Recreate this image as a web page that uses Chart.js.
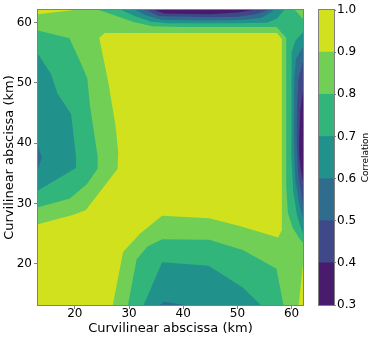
<!DOCTYPE html>
<html>
<head>
<meta charset="utf-8">
<script src="https://cdn.jsdelivr.net/npm/chart.js@4.4.1/dist/chart.umd.min.js"></script>
<style>
  html, body { margin: 0; padding: 0; background: #fff; }
  #wrap { position: relative; width: 374px; height: 340px; }
  #contour { position: absolute; left: 0; top: 0; }
  #colorbar { position: absolute; left: 305px; top: 0; }
</style>
</head>
<body>
<div id="wrap">
  <canvas id="contour" width="306" height="340"></canvas>
  <canvas id="colorbar" width="69" height="340"></canvas>
</div>
<script>
// axis limits and ticks (km)
var xMin = 13.2, xMax = 62.1, yMin = 13.2, yMax = 62.1;
var xTicks = [20, 30, 40, 50, 60];
var yTicks = [20, 30, 40, 50, 60];

// contour levels of the correlation
var levels = [0.3, 0.4, 0.5, 0.6, 0.7, 0.8, 0.9, 1.0];
var bandColors = ['#481b6d', '#3f4888', '#2e6d8e', '#21918c', '#32b57a', '#72cf56', '#d1e11e'];

// contour outlines, [x km, y km]
var above90Main = [[13.2, 13.2], [27.0, 13.2], [28.9, 22.0], [32.0, 25.0], [36.1, 28.0], [44.8, 27.6],
  [50.4, 26.3], [57.5, 24.4], [58.2, 25.6], [58.2, 57.3], [57.3, 58.3], [25.5, 58.3], [24.5, 57.5],
  [26.2, 50.0], [27.5, 43.0], [28.0, 38.5], [27.9, 35.8], [22.0, 28.9], [19.6, 28.1], [13.2, 26.6]];
var above90TopLeft = [[13.2, 62.1], [19.8, 62.1], [13.2, 61.4]];
var above90BottomRight = [[61.3, 13.2], [62.1, 13.2], [62.1, 20.0]];

var below80Left = [[13.2, 58.7], [19.0, 57.4], [20.8, 53.9], [22.3, 50.8], [22.8, 46.2], [24.2, 37.9],
  [24.2, 35.8], [22.2, 33.2], [19.0, 30.8], [13.2, 29.4]];
var below80Bottom = [[29.8, 13.2], [31.4, 20.8], [33.4, 22.9], [36.1, 24.1], [44.8, 24.0], [51.0, 22.3],
  [57.2, 19.2], [58.5, 13.2]];
var below80TopRight = [[24.4, 62.1], [27.0, 61.3], [31.0, 60.05], [34.4, 59.4], [40.0, 59.3], [57.2, 59.3],
  [59.0, 57.5], [59.0, 33.0], [59.3, 28.5], [60.2, 26.0], [61.3, 24.4], [62.1, 23.5], [62.1, 60.6], [60.6, 62.1]];

var below70Left = [[13.2, 54.8], [15.6, 51.5], [16.8, 48.2], [19.3, 44.9], [20.2, 37.9], [20.2, 35.9], [13.2, 32.2]];
var below70Bottom = [[32.7, 13.2], [36.1, 20.3], [44.7, 19.7], [51.1, 16.0], [54.3, 13.2]];
var below70Top = [[28.6, 62.1], [31.0, 61.1], [34.0, 60.2], [37.0, 59.9], [50.0, 59.9], [55.5, 60.0],
  [57.3, 60.7], [58.6, 62.1]];
var below70Right = [[62.1, 58.4], [60.7, 57.0], [60.0, 55.0], [59.9, 45.0], [60.0, 38.0], [60.3, 32.0],
  [61.0, 28.0], [62.1, 25.0]];

var below60Left = [[13.2, 39.5], [13.9, 37.6], [13.2, 35.8]];
var below60Bottom = [[35.7, 13.2], [36.4, 13.75], [40.3, 13.2]];
var below60Top = [[31.2, 62.1], [33.2, 61.2], [36.0, 60.5], [45.0, 60.35], [51.0, 60.45], [54.5, 60.8], [56.8, 62.1]];
var below60Right = [[62.1, 56.0], [60.8, 54.0], [60.5, 51.0], [60.4, 40.0], [60.7, 34.0], [61.4, 30.0], [62.1, 27.5]];

var below50Top = [[33.2, 62.1], [35.5, 61.1], [45.0, 60.9], [50.0, 61.0], [53.3, 61.4], [55.6, 62.1]];
var below50Right = [[62.1, 53.5], [61.3, 51.0], [61.0, 46.0], [60.95, 40.0], [61.2, 35.0], [62.1, 29.8]];

var below40Top = [[34.7, 62.1], [36.5, 61.5], [45.0, 61.4], [50.0, 61.7], [52.9, 62.1]];
var below40Right = [[62.1, 48.8], [61.6, 45.5], [61.4, 41.0], [61.4, 38.0], [61.7, 35.5], [62.1, 33.8]];

var domain = [[xMin, yMin], [xMax, yMin], [xMax, yMax], [xMin, yMax]];

// painted in this order, each band index points into bandColors
var layers = [
  {pts: domain, band: 5},
  {pts: above90Main, band: 6},
  {pts: above90TopLeft, band: 6},
  {pts: above90BottomRight, band: 6},
  {pts: below80Left, band: 4},
  {pts: below80Bottom, band: 4},
  {pts: below80TopRight, band: 4},
  {pts: below70Left, band: 3},
  {pts: below70Bottom, band: 3},
  {pts: below70Top, band: 3},
  {pts: below70Right, band: 3},
  {pts: below60Left, band: 2},
  {pts: below60Bottom, band: 2},
  {pts: below60Top, band: 2},
  {pts: below60Right, band: 2},
  {pts: below50Top, band: 1},
  {pts: below50Right, band: 1},
  {pts: below40Top, band: 0},
  {pts: below40Right, band: 0}
];

Chart.defaults.font.family = 'DejaVu Sans';
Chart.defaults.color = '#000';

var framePlugin = {
  id: 'frame',
  afterDraw: function(chart) {
    var a = chart.chartArea, ctx = chart.ctx;
    ctx.save();
    ctx.strokeStyle = '#808080';
    ctx.lineWidth = 1;
    ctx.strokeRect(a.left - 0.5, a.top - 0.5, a.right - a.left + 1, a.bottom - a.top + 1);
    ctx.restore();
  }
};

var datasets = layers.map(function(layer, i) {
  return {
    data: layer.pts.map(function(p) { return {x: p[0], y: p[1]}; }),
    showLine: true,
    fill: 'shape',
    backgroundColor: bandColors[layer.band],
    borderColor: 'rgba(0,0,0,0)',
    borderWidth: 0,
    pointRadius: 0,
    tension: 0,
    order: layers.length - i
  };
});

new Chart(document.getElementById('contour'), {
  type: 'scatter',
  data: { datasets: datasets },
  options: {
    responsive: false,
    animation: false,
    events: [],
    layout: { padding: { left: 0, top: 10, right: 3, bottom: 0 } },
    plugins: { legend: { display: false }, tooltip: { enabled: false } },
    scales: {
      x: {
        type: 'linear', min: xMin, max: xMax,
        afterBuildTicks: function(s) { s.ticks = xTicks.map(function(v) { return {value: v}; }); },
        afterFit: function(s) { s.height = 35; },
        grid: { drawOnChartArea: false, tickLength: 4, color: '#808080' },
        border: { display: false },
        ticks: { font: { size: 12 }, padding: -2, maxRotation: 0, autoSkip: false },
        title: { display: true, text: 'Curvilinear abscissa (km)', font: { size: 13 }, padding: { top: 0, bottom: 4 } }
      },
      y: {
        type: 'linear', min: yMin, max: yMax,
        afterBuildTicks: function(s) { s.ticks = yTicks.map(function(v) { return {value: v}; }); },
        afterFit: function(s) { s.width = 38; },
        grid: { drawOnChartArea: false, tickLength: 4, color: '#808080' },
        border: { display: false },
        ticks: { font: { size: 12 }, padding: 2, autoSkip: false },
        title: { display: true, text: 'Curvilinear abscissa (km)', font: { size: 13 }, padding: { top: 2, bottom: 0 } }
      }
    }
  },
  plugins: [framePlugin]
});

// colorbar
var cbLabelPlugin = {
  id: 'cbLabel',
  afterDraw: function(chart) {
    var a = chart.chartArea, ctx = chart.ctx;
    ctx.save();
    ctx.translate(61, (a.top + a.bottom) / 2);
    ctx.rotate(-Math.PI / 2);
    ctx.font = '9px "DejaVu Sans"';
    ctx.fillStyle = '#000';
    ctx.textAlign = 'center';
    ctx.textBaseline = 'middle';
    ctx.fillText('Correlation', 0, 0);
    ctx.restore();
  }
};

new Chart(document.getElementById('colorbar'), {
  type: 'bar',
  data: {
    labels: [''],
    datasets: bandColors.map(function(c, i) {
      return {
        data: [[levels[i], levels[i + 1]]],
        backgroundColor: c,
        borderWidth: 0,
        grouped: false,
        barPercentage: 1,
        categoryPercentage: 1
      };
    })
  },
  options: {
    responsive: false,
    animation: false,
    events: [],
    layout: { padding: { left: 14, top: 10, right: 0, bottom: 35 } },
    plugins: { legend: { display: false }, tooltip: { enabled: false } },
    scales: {
      x: { display: false },
      y: {
        position: 'right', min: levels[0], max: levels[levels.length - 1],
        afterBuildTicks: function(s) { s.ticks = levels.map(function(v) { return {value: v}; }); },
        afterFit: function(s) { s.width = 40; },
        grid: { drawOnChartArea: false, tickLength: 2, color: '#808080' },
        border: { display: false },
        ticks: { font: { size: 12 }, padding: 1, callback: function(v) { return Number(v).toFixed(1); } }
      }
    }
  },
  plugins: [framePlugin, cbLabelPlugin]
});
</script>
</body>
</html>
